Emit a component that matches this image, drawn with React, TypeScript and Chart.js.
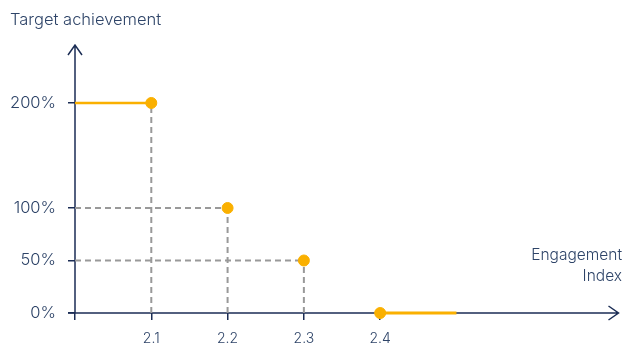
import React, { useEffect, useRef } from "react";
import { Chart, registerables } from "chart.js";

Chart.register(...registerables);

// ---- data ----
const engagementIndex = [2.1, 2.2, 2.3, 2.4];
const targetAchievement = [2, 1, 0.5, 0];
const xStart = 2.0;
const xTailEnd = 2.5;
const xTickValues = [2.0, 2.1, 2.2, 2.3, 2.4];
const xTickLabels = ["", "2.1", "2.2", "2.3", "2.4"];
const yTickValues = [0, 0.5, 1, 2];
const yTickLabels = ["0%", "50%", "100%", "200%"];
const yTitle = "Target achievement";
const xTitle = ["Engagement", "Index"];

const ORANGE = "#FAB000";
const NAVY = "#1B2D55";
const TEXT = "#2E4468";
const GREY = "#999999";
const FONT = "Inter, 'Open Sans', sans-serif";

export default function App() {
  const ref = useRef<HTMLCanvasElement>(null);
  useEffect(() => {
    const canvas = ref.current!;
    const last = engagementIndex.length - 1;
    const datasets: any[] = [];
    const dashed = { showLine: true, borderColor: GREY, borderWidth: 2, borderDash: [6, 4], pointRadius: 0, order: 3 };
    // dashed drop lines
    engagementIndex.forEach((x, i) => {
      const y = targetAchievement[i];
      if (y <= 0) return;
      datasets.push({ ...dashed, data: [{ x, y: 0 }, { x, y }] });
      if (i > 0) {
        datasets.push({ ...dashed, data: [{ x: xStart, y }, { x, y }] });
      }
    });
    // solid orange segments
    datasets.push({
      showLine: true, order: 2,
      data: [{ x: xStart, y: targetAchievement[0] }, { x: engagementIndex[0], y: targetAchievement[0] }],
      borderColor: ORANGE, borderWidth: 2.5, pointRadius: 0,
    });
    datasets.push({
      showLine: true, order: 2,
      data: [{ x: engagementIndex[last], y: targetAchievement[last] }, { x: xTailEnd, y: targetAchievement[last] }],
      borderColor: ORANGE, borderWidth: 3, pointRadius: 0,
    });
    // points
    datasets.push({
      order: 1,
      data: engagementIndex.map((x, i) => ({ x, y: targetAchievement[i] })),
      showLine: false, pointRadius: 5.5, pointBackgroundColor: ORANGE,
      pointBorderColor: ORANGE, pointBorderWidth: 1, borderColor: ORANGE,
    });

    const axesPlugin = {
      id: "axesArrows",
      beforeDatasetsDraw(chart: any) {
        const { ctx, chartArea } = chart;
        const l = chartArea.left, b = chartArea.bottom, t = chartArea.top, r = chartArea.right;
        ctx.save();
        ctx.strokeStyle = NAVY;
        ctx.lineWidth = 1.5;
        ctx.beginPath();
        ctx.moveTo(l, b); ctx.lineTo(l, t);
        ctx.moveTo(l - 7, t + 10); ctx.lineTo(l, t); ctx.lineTo(l + 7, t + 10);
        ctx.moveTo(l - 7, b); ctx.lineTo(r, b);
        ctx.moveTo(r - 10, b - 7); ctx.lineTo(r, b); ctx.lineTo(r - 10, b + 7);
        ctx.stroke();
        ctx.restore();
      },
      afterDraw(chart: any) {
        const { ctx } = chart;
        ctx.save();
        ctx.fillStyle = TEXT;
        ctx.font = `300 16.5px ${FONT}`;
        ctx.textAlign = "left";
        ctx.textBaseline = "middle";
        ctx.fillText(yTitle, 10, 20);
        ctx.font = `300 15.5px ${FONT}`;
        ctx.textAlign = "right";
        ctx.fillText(xTitle[0], 622, 255);
        ctx.fillText(xTitle[1], 622, 276);
        ctx.restore();
      },
    };

    const chart = new Chart(canvas, {
      type: "scatter",
      data: { datasets },
      plugins: [axesPlugin],
      options: {
        animation: false,
        responsive: false,
        maintainAspectRatio: false,
        layout: { padding: { top: 45, right: 5, left: 0, bottom: 0 } },
        plugins: { legend: { display: false }, tooltip: { enabled: false } },
        datasets: { scatter: { clip: false } as any },
        scales: {
          x: {
            type: "linear", min: 2.0, max: 2.7124,
            afterBuildTicks: (s: any) => { s.ticks = xTickValues.map((v) => ({ value: v })); },
            afterFit: (s: any) => { s.height = 47; },
            grid: { drawOnChartArea: false, drawTicks: true, tickLength: 7, color: NAVY, lineWidth: 1.5 },
            border: { display: false },
            ticks: {
              padding: 10, color: TEXT, font: { family: FONT, size: 14, weight: "300" }, maxRotation: 0,
              callback: (v: any) => xTickLabels[xTickValues.findIndex((t) => Math.abs(t - v) < 1e-6)] ?? "",
            },
          },
          y: {
            type: "linear", min: 0, max: 2.552,
            afterBuildTicks: (s: any) => { s.ticks = yTickValues.map((v) => ({ value: v })); },
            afterFit: (s: any) => { s.width = 75; },
            grid: { drawOnChartArea: false, drawTicks: true, tickLength: 7, color: NAVY, lineWidth: 1.5 },
            border: { display: false },
            ticks: {
              padding: 12, color: TEXT, font: { family: FONT, size: 16.5, weight: "300" },
              callback: (v: any) => yTickLabels[yTickValues.findIndex((t) => Math.abs(t - v) < 1e-6)] ?? "",
            },
          },
        },
      } as any,
    });
    return () => chart.destroy();
  }, []);
  return (
    <div style={{ position: "fixed", left: 0, top: 0, width: 625, height: 360, background: "#fff" }}>
      <canvas ref={ref} width={625} height={360} style={{ width: 625, height: 360 }} />
    </div>
  );
}
